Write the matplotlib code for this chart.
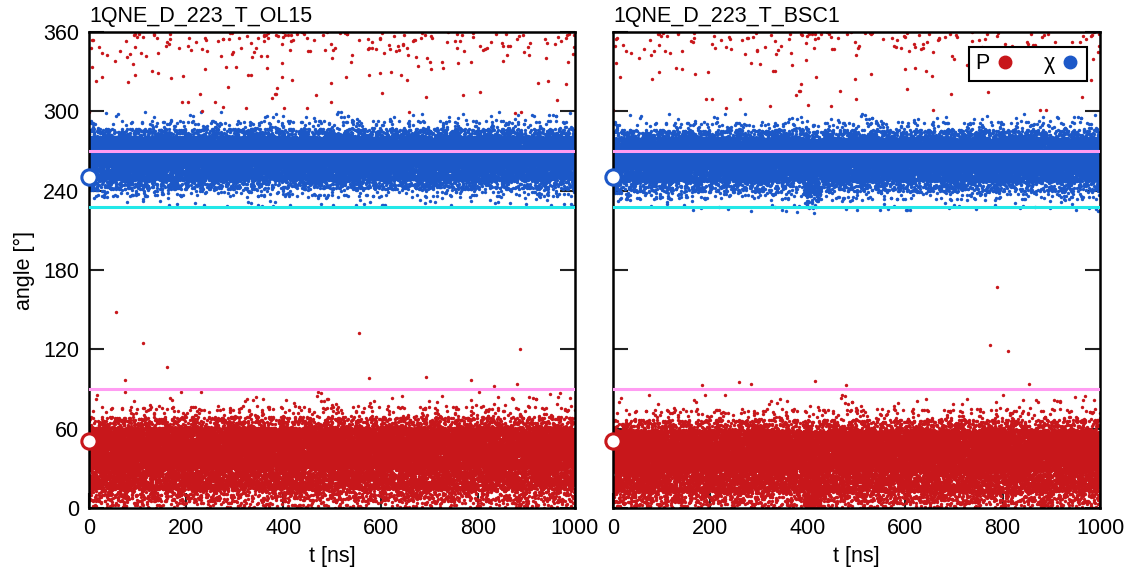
import numpy as np
import matplotlib
matplotlib.use("Agg")
import matplotlib.pyplot as plt
from matplotlib.lines import Line2D

plt.rcParams['font.family'] = ['Liberation Sans', 'DejaVu Sans']

# ---------------- data ----------------
panel_titles = ["1QNE_D_223_T_OL15", "1QNE_D_223_T_BSC1"]
x_ticks = [0, 200, 400, 600, 800, 1000]
y_ticks = [0, 60, 120, 180, 240, 300, 360]
n_frames = 24000                      # simulation frames over 1000 ns

# quantile levels of each dense cloud and the angles read at those levels
q_levels = [0.0, 0.002, 0.01, 0.05, 0.25, 0.5, 0.75, 0.95, 0.99, 0.998, 1.0]
P_OL15_q = [0, 1, 5, 14, 30, 41, 51, 61, 69, 77, 88]
P_BSC1_q = [0, 1, 4, 12, 28, 39, 49, 59, 67, 75, 86]
chi_OL15_q = [228, 235, 241, 248, 259, 266, 273, 281, 287, 293, 300]
chi_BSC1_q = [224, 233, 239, 247, 258, 265, 272, 280, 286, 292, 298]

# BSC1: short window around 400 ns where both angles spread further
BSC1_dip_window = [392, 425]
P_BSC1_dip_q = [0, 0, 1, 4, 18, 33, 46, 58, 66, 74, 82]
chi_BSC1_dip_q = [222, 226, 230, 237, 250, 261, 270, 279, 285, 290, 295]

# wrapped-around P values (negative angles shown near 360)
wrap_levels = [0.0, 0.1, 0.25, 0.5, 0.75, 1.0]
P_wrap_OL15_q = [298, 325, 341, 351, 356, 360]
P_wrap_BSC1_q = [300, 328, 343, 352, 357, 360]
n_wrap_OL15 = 230
n_wrap_BSC1 = 190

# isolated P points between the clouds (t [ns], angle [deg])
P_mid_OL15_t = [56, 111, 160, 74, 555, 887, 576, 693, 787, 833, 880]
P_mid_OL15_a = [148, 125, 107, 97, 132, 120, 98, 99, 97, 92, 94]
P_mid_BSC1_t = [788, 774, 811, 182, 258, 283, 415, 478, 855]
P_mid_BSC1_a = [167, 123, 119, 93, 95, 94, 96, 93, 94]

# reference lines and starting values
ref_pink = [270, 90]
ref_cyan = [228]
start_chi = 250
start_P = 51

red = "#c8171b"
blue = "#1c58c8"
pink = "#ff9cf2"
cyan = "#22e8e8"


def frame_hash(k, salt):
    # deterministic bit-mixing of the frame index -> value in [0, 1)
    z = (k.astype(np.uint64) + np.uint64(salt)) * np.uint64(0x9E3779B97F4A7C15)
    z = (z ^ (z >> np.uint64(30))) * np.uint64(0xBF58476D1CE4E5B9)
    z = (z ^ (z >> np.uint64(27))) * np.uint64(0x94D049BB133111EB)
    z = z ^ (z >> np.uint64(31))
    return (z >> np.uint64(11)).astype(np.float64) / 2.0 ** 53


def cloud(n, levels, values, salt, spread_t=False, window=None, values_w=None):
    k = np.arange(n)
    if spread_t:
        t = frame_hash(k, salt + 7777) * 1000.0
    else:
        t = (k + 0.5) / n * 1000.0
    u = frame_hash(k, salt)
    a = np.interp(u, levels, values)
    if window is not None:
        m = (t >= window[0]) & (t <= window[1])
        a[m] = np.interp(u[m], levels, values_w)
    return t, a


fig = plt.figure(figsize=(11.36, 5.72), dpi=100)
ax_l = fig.add_axes([89 / 1136, 64 / 572, 486 / 1136, 476 / 572])
ax_r = fig.add_axes([613 / 1136, 64 / 572, 487 / 1136, 476 / 572])

panels = [
    (ax_l, P_OL15_q, chi_OL15_q, P_wrap_OL15_q, n_wrap_OL15, P_mid_OL15_t, P_mid_OL15_a,
     None, None, None),
    (ax_r, P_BSC1_q, chi_BSC1_q, P_wrap_BSC1_q, n_wrap_BSC1, P_mid_BSC1_t, P_mid_BSC1_a,
     BSC1_dip_window, P_BSC1_dip_q, chi_BSC1_dip_q),
]

FS = 15.5
with np.errstate(over='ignore'):
    for i, (ax, pq, cq, wq, nw, mt, ma, win, pqw, cqw) in enumerate(panels):
        s = 6
        t, a = cloud(n_frames, q_levels, cq, 1000 + 10 * i, window=win, values_w=cqw)
        ax.scatter(t, a, s=s, color=blue, linewidths=0, zorder=2)
        t, a = cloud(n_frames, q_levels, pq, 2000 + 10 * i, window=win, values_w=pqw)
        ax.scatter(t, a, s=s, color=red, linewidths=0, zorder=2)
        t, a = cloud(nw, wrap_levels, wq, 3000 + 10 * i, spread_t=True)
        ax.scatter(t, a, s=s, color=red, linewidths=0, zorder=2)
        ax.scatter(mt, ma, s=s, color=red, linewidths=0, zorder=2)

        for y in ref_pink:
            ax.axhline(y, color=pink, lw=2.2, zorder=3)
        for y in ref_cyan:
            ax.axhline(y, color=cyan, lw=2.2, zorder=3)

        ax.plot([0], [start_chi], 'o', ms=11, mfc='white', mec=blue, mew=2.2,
                clip_on=False, zorder=5)
        ax.plot([0], [start_P], 'o', ms=11, mfc='white', mec=red, mew=2.2,
                clip_on=False, zorder=5)

        ax.set_xlim(0, 1000)
        ax.set_ylim(0, 360)
        ax.set_xticks(x_ticks)
        ax.set_yticks(y_ticks)
        ax.tick_params(direction='in', length=11, width=1.5, top=False, right=True,
                       labelsize=FS, pad=7, color='#222222')
        for sp in ax.spines.values():
            sp.set_linewidth(1.8)
        ax.set_xlabel("t [ns]", fontsize=FS, labelpad=5)
        ax.text(0.0, 1.01, panel_titles[i], transform=ax.transAxes,
                fontsize=FS, ha='left', va='bottom')

ax_l.set_ylabel("angle [°]", fontsize=FS, labelpad=6)
ax_r.tick_params(labelleft=False)

handles = [
    Line2D([], [], ls='none', marker='o', ms=9, color=red, label='P'),
    Line2D([], [], ls='none', marker='o', ms=9, color=blue, label='χ'),
]
leg = ax_r.legend(handles=handles, loc='upper right', ncol=2, markerfirst=False,
                  bbox_to_anchor=(1 - 13 / 487, 1 - 15 / 476), borderaxespad=0,
                  fontsize=FS, fancybox=False, framealpha=1, edgecolor='black',
                  handletextpad=0.2, columnspacing=1.3, handlelength=1.0,
                  borderpad=0.3)
leg.get_frame().set_linewidth(1.5)

fig.savefig("out.png", dpi=100)
